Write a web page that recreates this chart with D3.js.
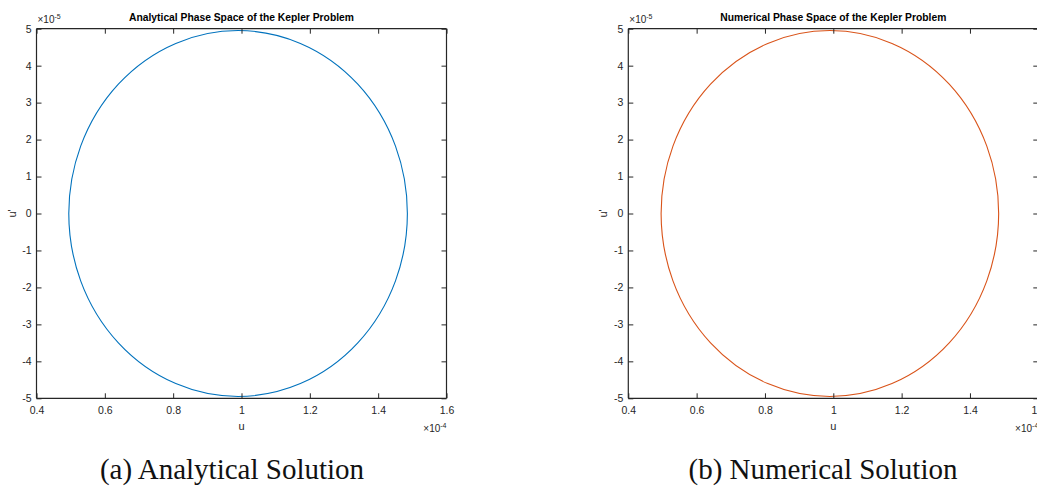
<!DOCTYPE html>
<html><head><meta charset="utf-8">
<script src="https://cdn.jsdelivr.net/npm/d3@7"></script>
<style>body{margin:0;background:#fff;} svg{display:block;}</style>
</head><body>
<svg id="c" width="1037" height="487"></svg>
<script>
// ---- data ----
const panelTitles = ["Analytical Phase Space of the Kepler Problem", "Numerical Phase Space of the Kepler Problem"];
const captions = ["(a) Analytical Solution", "(b) Numerical Solution"];
const seriesColors = ["#0072BD", "#D95319"];
const xTicks = [0.4, 0.6, 0.8, 1.0, 1.2, 1.4, 1.6];   // ×10^-4
const yTicks = [-5, -4, -3, -2, -1, 0, 1, 2, 3, 4, 5]; // ×10^-5
const xDomain = [0.4, 1.6];
const yDomain = [-5, 5];
// orbit in phase space (u, u'): centre and semi-axes
const orbitCenterU = [0.99, 0.99];      // ×10^-4
const orbitCenterUp = [0, 0];           // ×10^-5
const orbitSemiU = [0.4955, 0.4940];    // ×10^-4
const orbitSemiUp = [4.95, 4.95];       // ×10^-5

const svg = d3.select("#c");
const panels = [{left: 36.5, right: 446.5}, {left: 628.3, right: 1038.3}];
const plotTop = 28.7, plotBottom = 398.3;
const axisColor = "#262626";
const font = "'Liberation Sans', Arial, Helvetica, sans-serif";

panels.forEach((p, i) => {
  const x = d3.scaleLinear().domain(xDomain).range([p.left, p.right]);
  const y = d3.scaleLinear().domain(yDomain).range([plotBottom, plotTop]);
  const g = svg.append("g");

  // curve
  g.append("ellipse")
    .attr("cx", x(orbitCenterU[i]))
    .attr("cy", y(orbitCenterUp[i]))
    .attr("rx", x(orbitCenterU[i] + orbitSemiU[i]) - x(orbitCenterU[i]))
    .attr("ry", y(orbitCenterUp[i]) - y(orbitCenterUp[i] + orbitSemiUp[i]))
    .attr("fill", "none")
    .attr("stroke", seriesColors[i])
    .attr("stroke-width", 1.1);

  // axes
  const fmt = d => (Math.round(d * 10) / 10).toString();
  const bx = g.append("g").attr("transform", `translate(0,${plotBottom})`)
    .call(d3.axisBottom(x).tickValues(xTicks).tickSize(-5).tickPadding(8).tickFormat(fmt));
  const tx = g.append("g").attr("transform", `translate(0,${plotTop})`)
    .call(d3.axisTop(x).tickValues(xTicks).tickSize(-5).tickFormat(""));
  const ly = g.append("g").attr("transform", `translate(${p.left},0)`)
    .call(d3.axisLeft(y).tickValues(yTicks).tickSize(-5).tickPadding(5).tickFormat(d => String(d)));
  const ry = g.append("g").attr("transform", `translate(${p.right},0)`)
    .call(d3.axisRight(y).tickValues(yTicks).tickSize(-5).tickFormat(""));
  [bx, tx, ly, ry].forEach(a => {
    a.selectAll("path").attr("stroke", axisColor).attr("stroke-width", 1.2);
    a.selectAll("line").attr("stroke", axisColor).attr("stroke-width", 1);
    a.selectAll("text").attr("fill", axisColor).attr("font-family", font).attr("font-size", 10.5);
  });
  bx.selectAll(".domain").attr("d", `M${p.left},0H${p.right}`);
  tx.selectAll(".domain").attr("d", `M${p.left},0H${p.right}`);
  ly.selectAll(".domain").attr("d", `M0,${plotTop}V${plotBottom}`);
  ry.selectAll(".domain").attr("d", `M0,${plotTop}V${plotBottom}`);

  // exponent labels
  const e1 = g.append("text").attr("x", p.left + 1).attr("y", 23)
    .attr("font-family", font).attr("font-size", 10).attr("fill", axisColor);
  e1.append("tspan").text("\u00D710");
  e1.append("tspan").attr("dy", -4).attr("font-size", 7).text("-5");
  const e2 = g.append("text").attr("x", p.right).attr("y", 432).attr("text-anchor", "end")
    .attr("font-family", font).attr("font-size", 10).attr("fill", axisColor);
  e2.append("tspan").text("\u00D710");
  e2.append("tspan").attr("dy", -4).attr("font-size", 7).text("-4");

  // axis labels
  g.append("text").attr("x", (p.left + p.right) / 2).attr("y", 430)
    .attr("text-anchor", "middle").attr("font-family", font).attr("font-size", 11)
    .attr("fill", axisColor).text("u");
  g.append("text").attr("transform", `translate(${p.left - 21},${(plotTop + plotBottom) / 2}) rotate(-90)`)
    .attr("text-anchor", "middle").attr("font-family", font).attr("font-size", 11)
    .attr("fill", axisColor).text("u'");

  // title
  g.append("text").attr("x", (p.left + p.right) / 2).attr("y", 21)
    .attr("text-anchor", "middle").attr("font-family", font).attr("font-size", 10.3)
    .attr("font-weight", "bold").attr("fill", "#000").text(panelTitles[i]);
});

// captions
const capX = [232, 823];
captions.forEach((c, i) => {
  svg.append("text").attr("x", capX[i]).attr("y", 479)
    .attr("text-anchor", "middle").attr("font-family", "'Liberation Serif', 'DejaVu Serif', serif")
    .attr("font-size", 29).attr("fill", "#111").text(c);
});
</script>
</body></html>
